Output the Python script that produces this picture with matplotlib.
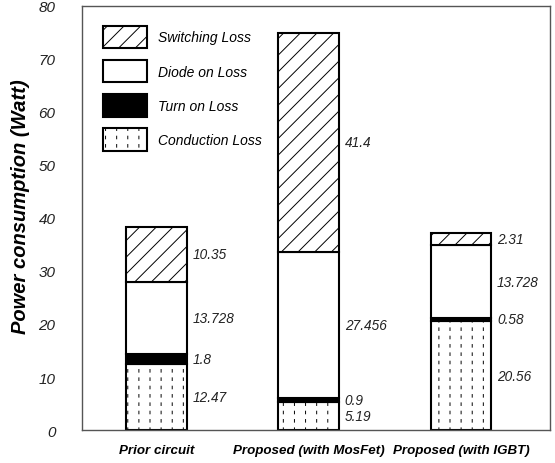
import numpy as np
import matplotlib
matplotlib.use("Agg")
import matplotlib.pyplot as plt
import matplotlib.hatch as mhatch
from matplotlib.path import Path


class DashedVertical(mhatch.HatchPatternBase):
    """Vertical dashed lines for the '|' hatch (dotted conduction fill)."""
    def __init__(self, hatch, density):
        n = hatch.count('|')
        self.ncols = 9 * n if n else 0
        self.nrows = 12
        self.num_vertices = self.ncols * self.nrows * 2

    def set_vertices_and_codes(self, vertices, codes):
        xs = (np.arange(self.ncols) + 0.5) / self.ncols
        ys = (np.arange(self.nrows) + 0.5) / self.nrows
        X, Y = np.meshgrid(xs, ys)
        X = X.ravel()
        Y = Y.ravel()
        dl = 0.013
        vertices[0::2, 0] = X
        vertices[0::2, 1] = Y - dl
        vertices[1::2, 0] = X
        vertices[1::2, 1] = Y + dl
        codes[0::2] = Path.MOVETO
        codes[1::2] = Path.LINETO


mhatch._hatch_types[mhatch._hatch_types.index(mhatch.VerticalHatch)] = DashedVertical

plt.rcParams['font.family'] = ['Liberation Sans', 'DejaVu Sans']
plt.rcParams['hatch.linewidth'] = 0.7

# ---- data ----
categories = ['Prior circuit', 'Proposed (with MosFet)', 'Proposed (with IGBT)']
conduction = [12.47, 5.19, 20.56]
turn_on = [1.8, 0.9, 0.58]
diode_on = [13.728, 27.456, 13.728]
switching = [10.35, 41.4, 2.31]
conduction_lbl = ['12.47', '5.19', '20.56']
turn_on_lbl = ['1.8', '0.9', '0.58']
diode_on_lbl = ['13.728', '27.456', '13.728']
switching_lbl = ['10.35', '41.4', '2.31']
yticks = [0, 10, 20, 30, 40, 50, 60, 70, 80]

fig = plt.figure(figsize=(5.55, 4.64), dpi=100)
ax = fig.add_axes([0.1477, 0.0711, 0.8433, 0.9139])

x = np.arange(len(categories))
w = 0.4
series = [
    ('Conduction Loss', conduction, conduction_lbl, dict(facecolor='white', hatch='|')),
    ('Turn on Loss', turn_on, turn_on_lbl, dict(facecolor='black')),
    ('Diode on Loss', diode_on, diode_on_lbl, dict(facecolor='white')),
    ('Switching Loss', switching, switching_lbl, dict(facecolor='white', hatch='//')),
]
bottom = np.zeros(len(categories))
handles = {}
for name, vals, lbls, style in series:
    vals = np.array(vals)
    b = ax.bar(x, vals, w, bottom=bottom, edgecolor='black', linewidth=1.5,
               label=name, zorder=2, **style)
    handles[name] = b
    for xi, bi, vi, li in zip(x, bottom, vals, lbls):
        ax.annotate(li, xy=(xi + w / 2, bi + vi / 2), xytext=(4, 0),
                    textcoords='offset points', ha='left', va='center',
                    fontsize=9.8, style='italic', color='#222222')
    bottom = bottom + vals

ax.set_xlim(-0.49, 2.585)
ax.set_ylim(0, 80)
ax.set_yticks(yticks)
ax.set_yticklabels([str(t) for t in yticks], style='italic', fontsize=11,
                   color='#222222')
ax.tick_params(axis='y', length=0, pad=19)
ax.set_xticks(x)
ax.set_xticklabels(categories, fontweight='bold', style='italic', fontsize=9.6)
ax.tick_params(axis='x', length=0, pad=10)
ax.set_ylabel('Power consumption (Watt)', fontweight='bold', style='italic',
              fontsize=14.5)
ax.yaxis.set_label_coords(-0.112, 0.53)
for s in ax.spines.values():
    s.set_color('#555555')
    s.set_linewidth(1.0)

order = ['Switching Loss', 'Diode on Loss', 'Turn on Loss', 'Conduction Loss']
leg = ax.legend([handles[o] for o in order], order, loc='upper left',
                bbox_to_anchor=(0.045, 0.953), frameon=False,
                prop=dict(style='italic', size=10), borderpad=0,
                handlelength=3.2, handleheight=2.1, labelspacing=0.85,
                handletextpad=0.75, borderaxespad=0)

fig.savefig('out.png', dpi=100)
